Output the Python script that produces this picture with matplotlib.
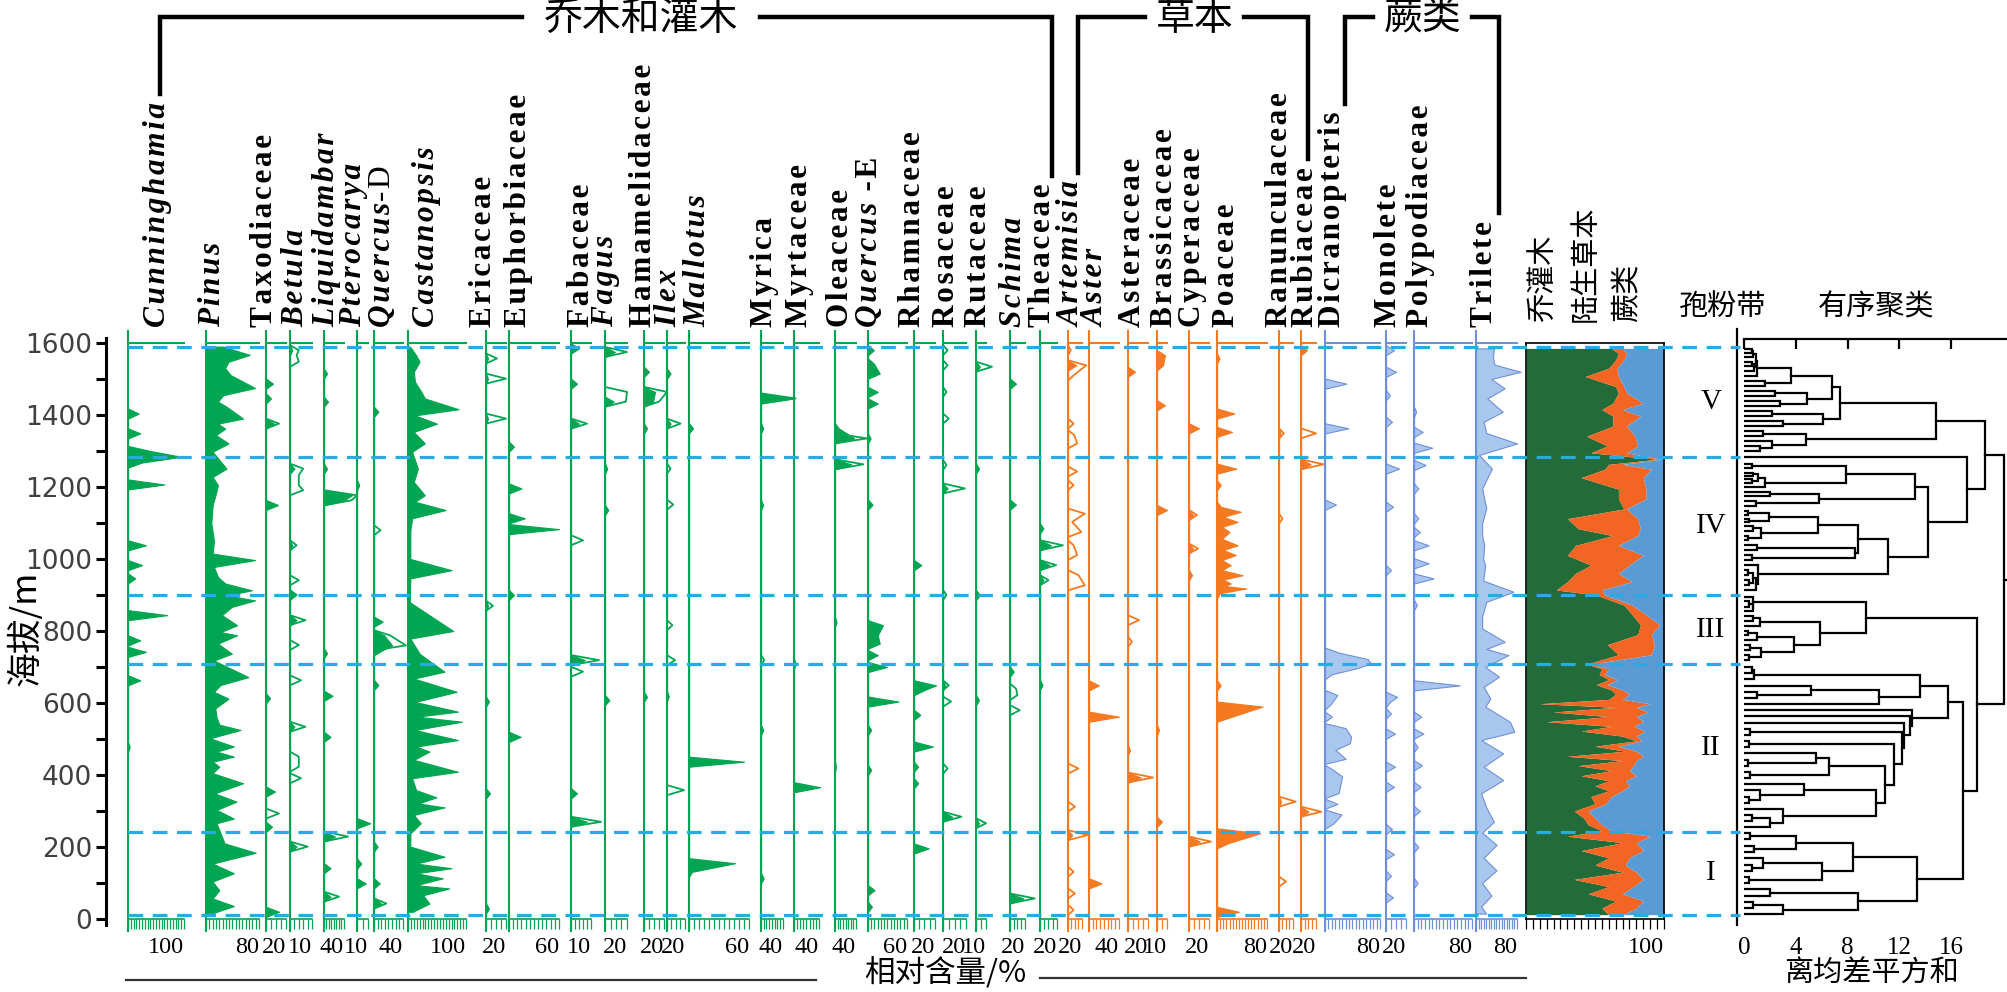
import numpy as np
import matplotlib
matplotlib.use("Agg")
import matplotlib.pyplot as plt
from matplotlib.ticker import MultipleLocator

# ------------------------------------------------------------------
# percentages as (elevation m, percent)
# *_ex = hollow exaggeration outline curves
# ------------------------------------------------------------------
cunninghamia = [(1404, 19), (1349, 22), (1300, 40), (1284, 95), (1268, 25),
                (1207, 65), (1038, 32), (983, 25), (946, 13), (844, 70),
                (774, 22), (742, 32), (663, 22), (478, 3)]
pinus = [(1590, 26), (1567, 66), (1548, 34), (1530, 29), (1511, 37), (1475, 74),
         (1455, 26), (1437, 18), (1423, 31), (1390, 56), (1376, 18), (1362, 29),
         (1344, 15), (1321, 34), (1298, 10), (1251, 31), (1228, 10), (1205, 18),
         (1182, 15), (1150, 10), (1100, 8), (1050, 12), (1015, 10), (997, 74),
         (978, 12), (950, 18), (932, 29), (913, 69), (899, 32), (885, 74),
         (867, 39), (844, 24), (816, 47), (797, 22), (788, 47), (765, 18),
         (737, 39), (718, 12), (672, 64), (650, 22), (631, 12), (612, 34),
         (585, 14), (560, 16), (540, 20), (525, 52), (502, 6), (479, 42),
         (465, 16), (451, 42), (437, 10), (423, 20), (405, 10), (377, 56),
         (349, 13), (326, 46), (303, 16), (279, 42), (266, 16), (247, 20),
         (210, 28), (184, 75), (154, 10), (127, 42), (104, 10), (80, 20),
         (57, 10), (36, 42), (16, 10)]
taxodiaceae = [(1487, 7), (1446, 5), (1376, 8), (1150, 12), (613, 4), (354, 9),
               (256, 6), (20, 13)]
taxodiaceae_ex = [(1376, 13), (293, 13)]
betula = [(1580, 1), (1251, 2), (1038, 1), (900, 2), (830, 3), (534, 2), (201, 3)]
betula_ex = [(1580, 4), (1566, 3), (1548, 4), (1251, 6), (1233, 4), (1205, 4),
             (1191, 6), (1038, 3), (941, 4), (900, 3), (830, 7), (761, 4),
             (663, 5), (534, 7), (451, 4), (423, 4), (391, 5), (201, 8)]
liquidambar = [(1515, 6), (1437, 8), (1251, 6), (1177, 56), (1163, 40), (738, 6),
               (620, 17), (506, 13), (229, 22), (141, 13), (62, 13)]
liquidambar_ex = [(1177, 66), (1163, 55), (229, 48), (62, 30)]
pterocarya = [(1205, 2), (266, 12), (154, 4), (99, 8)]
quercus_d = [(1409, 6), (826, 12), (788, 14), (760, 25), (747, 12), (650, 6),
             (201, 5), (99, 8), (43, 10)]
quercus_d_ex = [(1080, 9), (788, 22), (760, 44), (43, 17)]
castanopsis = [(1589, 4), (1566, 14), (1548, 20), (1520, 10), (1492, 12),
               (1464, 23), (1446, 29), (1416, 87), (1399, 12), (1376, 50),
               (1353, 10), (1321, 29), (1298, 7), (1251, 17), (1214, 10),
               (1177, 29), (1159, 12), (1136, 65), (1113, 7), (1080, 4),
               (1000, 4), (969, 75), (946, 4), (880, 3), (800, 78), (779, 4),
               (737, 20), (719, 35), (687, 63), (668, 10), (631, 84), (603, 12),
               (576, 86), (562, 16), (548, 93), (525, 12), (497, 86), (479, 14),
               (465, 37), (442, 10), (409, 86), (391, 7), (358, 14), (338, 49),
               (321, 18), (310, 63), (289, 10), (266, 22), (238, 4), (201, 4),
               (173, 63), (154, 14), (141, 75), (127, 14), (113, 60), (94, 14),
               (85, 71), (66, 26), (43, 37), (20, 8)]
ericaceae = [(1557, 2), (1501, 2), (1390, 2), (870, 2), (604, 3), (349, 4), (29, 3)]
ericaceae_ex = [(1557, 11), (1501, 20), (1390, 20), (870, 7)]
euphorbiaceae = [(1312, 6), (1196, 15), (1113, 19), (1083, 60), (900, 6), (506, 14)]
fabaceae = [(1585, 4), (1487, 3), (1376, 4), (719, 7), (349, 3), (270, 8)]
fabaceae_ex = [(1376, 8), (1052, 6), (719, 14), (687, 6), (270, 15)]
fagus = [(1575, 9), (1437, 8), (1251, 2), (1136, 3), (608, 4)]
fagus_ex = [(1575, 20), (1464, 20), (1437, 19)]
hamamelidaceae = [(1520, 5), (1464, 11), (1437, 9), (1363, 3), (617, 3)]
hamamelidaceae_ex = [(1464, 23), (1437, 15)]
ilex = [(1515, 4), (1376, 4), (619, 2)]
ilex_ex = [(1376, 15), (1251, 4), (1151, 7), (816, 6), (719, 9), (358, 19)]
mallotus = [(1363, 4), (437, 55), (155, 46), (131, 3)]
myrica = [(1446, 58), (1363, 4), (1150, 4), (525, 4), (113, 5)]
myrica_ex = [(1446, 63), (719, 6)]
myrtaceae = [(709, 3), (366, 42)]
oleaceae = [(1363, 7), (1335, 37), (1263, 31), (825, 3), (423, 2)]
oleaceae_ex = [(1335, 61), (1263, 54)]
quercus_e = [(1580, 9), (1543, 9), (1515, 18), (1464, 15), (1432, 15), (1335, 4),
             (1151, 7), (816, 23), (788, 15), (765, 18), (733, 15), (700, 29),
             (604, 47), (525, 5), (414, 5), (80, 10), (34, 6)]
rhamnaceae = [(983, 7), (649, 21), (636, 10), (567, 6), (479, 18), (423, 4),
              (377, 4), (196, 14)]
rosaceae = [(1196, 4), (649, 2), (284, 8)]
rosaceae_ex = [(1580, 4), (1538, 4), (1464, 3), (1390, 5), (1261, 3), (1196, 19),
               (900, 3), (649, 5), (604, 7), (418, 4), (284, 16)]
rutaceae = [(1534, 4), (1251, 3), (900, 4), (608, 3), (266, 3)]
rutaceae_ex = [(1534, 16), (266, 10)]
schima = [(1487, 8), (1151, 8), (687, 5), (57, 18)]
schima_ex = [(640, 8), (622, 10), (580, 13), (57, 33)]
theaceae = [(1085, 4), (1038, 13), (983, 11), (941, 4), (650, 3)]
theaceae_ex = [(1038, 27), (983, 19), (941, 10)]
artemisia = [(1538, 12), (233, 6)]
artemisia_ex = [(1580, 4), (1538, 26), (1510, 8), (1376, 8), (1344, 9), (1321, 13),
                (1243, 13), (1205, 8), (1126, 24), (1103, 6), (1075, 19),
                (1038, 8), (1011, 13), (955, 15), (927, 24), (418, 15), (312, 10),
                (233, 28), (131, 8), (71, 10), (25, 8)]
aster = [(649, 13), (562, 40), (99, 17)]
asteraceae = [(1520, 7), (469, 2), (393, 13)]
asteraceae_ex = [(830, 11), (770, 4), (393, 25)]
brassicaceae = [(1566, 8), (1538, 6), (1427, 8), (1136, 10), (525, 2), (270, 5)]
cyperaceae = [(1363, 10), (1122, 4), (1029, 4), (955, 3), (215, 11)]
cyperaceae_ex = [(1122, 8), (1029, 9), (215, 22)]
poaceae = [(1557, 4), (1404, 28), (1353, 24), (1251, 31), (1205, 6), (1145, 6),
           (1131, 38), (1117, 10), (1103, 33), (1089, 8), (1075, 20), (1056, 8),
           (1038, 33), (1025, 10), (1011, 30), (997, 8), (983, 22), (969, 8),
           (955, 41), (943, 10), (932, 22), (925, 12), (918, 47), (905, 5),
           (649, 6), (590, 73), (562, 24), (238, 69), (210, 17), (20, 35)]
ranunculaceae = [(1349, 2), (326, 3)]
ranunculaceae_ex = [(1349, 7), (1112, 5), (326, 24), (104, 10)]
rubiaceae = [(1580, 8), (1263, 13), (298, 10)]
rubiaceae_ex = [(1349, 20), (1263, 30), (298, 27)]
dicranopteris = [(1487, 31), (1363, 34), (1151, 16), (740, 20), (722, 62),
                 (710, 67), (696, 45), (680, 10), (622, 18), (596, 8), (562, 10),
                 (530, 30), (506, 38), (488, 36), (470, 15), (445, 30), (414, 12),
                 (396, 25), (370, 22), (350, 20), (320, 18), (290, 24), (265, 12)]
monolete = [(1580, 8), (1520, 10), (1455, 4), (1381, 6), (1251, 13), (1145, 7),
            (969, 5), (617, 11), (603, 4), (571, 5), (515, 9), (423, 9), (367, 8),
            (250, 6), (180, 8), (120, 5), (60, 7)]
polypodiaceae = [(1409, 3), (1353, 12), (1309, 25), (1261, 16), (1196, 6),
                 (1113, 6), (1075, 8), (1038, 20), (988, 20), (946, 27), (872, 4),
                 (649, 63), (562, 10), (515, 13), (478, 5), (427, 11), (367, 9),
                 (300, 8), (200, 6), (100, 5)]
trilete = [(1585, 35), (1560, 33), (1540, 36), (1520, 87), (1500, 30), (1474, 56),
           (1446, 22), (1409, 52), (1381, 15), (1350, 20), (1321, 80), (1289, 6),
           (1251, 31), (1196, 12), (1140, 20), (1100, 12), (1066, 12), (1038, 16),
           (1000, 14), (983, 18), (940, 14), (909, 73), (881, 20), (840, 12),
           (807, 12), (770, 56), (750, 20), (733, 63), (700, 18), (673, 45),
           (645, 15), (612, 28), (590, 18), (548, 66), (520, 75), (497, 10),
           (460, 53), (423, 15), (386, 53), (349, 10), (310, 20), (270, 35),
           (240, 12), (206, 40), (170, 15), (135, 40), (100, 12), (65, 30),
           (35, 10), (15, 20)]

# summary: trees+shrubs %, terrestrial herbs %, ferns fill the rest
summ_elev = [1585, 1571, 1553, 1530, 1507, 1479, 1461, 1433, 1415, 1397, 1369,
             1341, 1314, 1295, 1277, 1263, 1249, 1226, 1194, 1167, 1139, 1112,
             1084, 1065, 1038, 1010, 983, 960, 937, 914, 900, 872, 845, 817, 790,
             762, 734, 708, 695, 679, 665, 651, 636, 624, 610, 598, 588, 575, 562,
             548, 535, 522, 508, 495, 480, 466, 452, 440, 426, 412, 398, 384, 370,
             356, 340, 320, 300, 280, 262, 245, 230, 212, 190, 170, 150, 130, 110,
             90, 70, 50, 30, 12]
summ_tree = [62, 67, 65, 60, 43, 65, 67, 63, 55, 63, 63, 44, 59, 47, 95, 60, 57, 40,
             67, 67, 71, 30, 38, 63, 36, 30, 47, 36, 30, 22, 51, 71, 77, 83, 81, 59,
             67, 44, 55, 53, 60, 51, 62, 65, 60, 10, 65, 20, 60, 15, 62, 40, 70, 80,
             50, 72, 30, 70, 38, 62, 40, 60, 50, 60, 47, 50, 35, 42, 45, 55, 30, 70,
             40, 60, 50, 70, 35, 60, 45, 65, 55, 60]
summ_herb = [8, 6, 6, 6, 24, 6, 6, 22, 15, 20, 10, 35, 22, 26, 3, 10, 34, 45, 20,
             20, 2, 51, 45, 18, 31, 55, 28, 31, 47, 33, 6, 6, 10, 14, 10, 34, 24, 3,
             5, 4, 6, 8, 8, 10, 10, 80, 15, 68, 20, 70, 16, 46, 10, 4, 17, 8, 55, 10,
             40, 13, 40, 12, 25, 10, 15, 8, 10, 8, 10, 7, 60, 10, 45, 15, 22, 10, 50,
             18, 25, 20, 25, 10]

# constrained cluster analysis: sample elevations per zone and the
# dissimilarity at which neighbouring samples join
leaves_v = [1582, 1571, 1560, 1548, 1536, 1523, 1509, 1495, 1481, 1467, 1454, 1438,
            1424, 1410, 1397, 1383, 1369, 1355, 1341, 1328, 1314, 1300]
gaps_v = [0.6, 0.7, 0.9, 0.6, 0.8, 1.0, 3.6, 1.6, 6.8, 2.4, 4.9, 2.8, 7.4, 2.2,
          6.1, 3.0, 14.8, 1.5, 4.8, 2.2, 1.2]
leaves_x = [1284]
gaps_x = []
leaves_iv = [1263, 1254, 1240, 1231, 1222, 1211, 1199, 1185, 1174, 1162, 1148, 1134,
             1121, 1111, 1102, 1093, 1079, 1065, 1052, 1038, 1024, 1010, 996, 983,
             969, 955, 941, 927, 914]
gaps_iv = [0.6, 7.9, 0.7, 1.1, 0.6, 1.6, 13.2, 2.0, 5.8, 0.9, 14.2, 0.3, 1.9, 0.4,
           5.7, 0.7, 1.3, 0.3, 8.8, 1.0, 8.6, 0.6, 11.1, 1.1, 0.3, 0.7, 0.4, 0.9]
leaves_iii = [895, 882, 868, 855, 842, 828, 815, 801, 788, 774, 761, 747, 734, 720]
gaps_iii = [0.7, 0.4, 0.7, 9.4, 0.7, 1.2, 5.9, 0.3, 1.0, 3.9, 0.5, 1.3, 0.4]
leaves_ii = [700, 683, 666, 648, 631, 614, 597, 580, 563, 545, 528, 511, 494, 477,
             460, 443, 426, 409, 391, 374, 357, 340, 323, 306, 289, 272, 255]
gaps_ii = [0.6, 0.8, 13.6, 5.2, 1.0, 10.4, 15.8, 13.0, 12.8, 12.4, 0.5, 12.2, 0.4,
           11.6, 5.6, 0.3, 6.6, 0.5, 10.9, 4.6, 1.2, 0.4, 10.2, 3.0, 0.6, 2.0]
leaves_i = [238, 221, 203, 186, 169, 151, 134, 117, 100, 82, 65, 48, 30, 13]
gaps_i = [0.5, 4.0, 0.8, 8.4, 1.5, 0.6, 6.0, 0.4, 13.4, 2.0, 8.8, 0.7, 3.0]
gaps_between = [18.6, 17.2, 20.1, 18.0, 16.9]

zone_bounds = [1588, 1284, 900, 708, 242, 11]
zone_names = ["V", "IV", "III", "II", "I"]

# ------------------------------------------------------------------
# strips: name, italic, data, outline, kind, group, axis max
panels = [
    ("Cunninghamia", True, cunninghamia, None, "spike", "tree", 100),
    ("Pinus", True, pinus, None, "line", "tree", 80),
    ("Taxodiaceae", False, taxodiaceae, taxodiaceae_ex, "spike", "tree", 20),
    ("Betula", True, betula, betula_ex, "spike", "tree", 10),
    ("Liquidambar", True, liquidambar, liquidambar_ex, "spike", "tree", 40),
    ("Pterocarya", True, pterocarya, None, "spike", "tree", 10),
    ("Quercus", True, quercus_d, quercus_d_ex, "spike", "tree", 40),
    ("Castanopsis", True, castanopsis, None, "line", "tree", 100),
    ("Ericaceae", False, ericaceae, ericaceae_ex, "spike", "tree", 20),
    ("Euphorbiaceae", False, euphorbiaceae, None, "spike", "tree", 60),
    ("Fabaceae", False, fabaceae, fabaceae_ex, "spike", "tree", 10),
    ("Fagus", True, fagus, fagus_ex, "spike", "tree", 20),
    ("Hamamelidaceae", False, hamamelidaceae, hamamelidaceae_ex, "spike", "tree", 20),
    ("Ilex", True, ilex, ilex_ex, "spike", "tree", 20),
    ("Mallotus", True, mallotus, None, "spike", "tree", 60),
    ("Myrica", False, myrica, myrica_ex, "spike", "tree", 40),
    ("Myrtaceae", False, myrtaceae, None, "spike", "tree", 40),
    ("Oleaceae", False, oleaceae, oleaceae_ex, "spike", "tree", 40),
    ("Quercus", True, quercus_e, None, "spike", "tree", 60),
    ("Rhamnaceae", False, rhamnaceae, None, "spike", "tree", 20),
    ("Rosaceae", False, rosaceae, rosaceae_ex, "spike", "tree", 20),
    ("Rutaceae", False, rutaceae, rutaceae_ex, "spike", "tree", 10),
    ("Schima", True, schima, schima_ex, "spike", "tree", 20),
    ("Theaceae", False, theaceae, theaceae_ex, "spike", "tree", 20),
    ("Artemisia", True, artemisia, artemisia_ex, "spike", "herb", 20),
    ("Aster", True, aster, None, "spike", "herb", 40),
    ("Asteraceae", False, asteraceae, asteraceae_ex, "spike", "herb", 20),
    ("Brassicaceae", False, brassicaceae, None, "spike", "herb", 10),
    ("Cyperaceae", False, cyperaceae, cyperaceae_ex, "spike", "herb", 20),
    ("Poaceae", False, poaceae, None, "spike", "herb", 80),
    ("Ranunculaceae", False, ranunculaceae, ranunculaceae_ex, "spike", "herb", 20),
    ("Rubiaceae", False, rubiaceae, rubiaceae_ex, "spike", "herb", 20),
    ("Dicranopteris", False, dicranopteris, None, "spike", "fern", 80),
    ("Monolete", False, monolete, None, "spike", "fern", 20),
    ("Polypodiaceae", False, polypodiaceae, None, "spike", "fern", 80),
    ("Trilete", False, trilete, None, "line", "fern", 80),
]
suffix = {6: ("-D", "normal"), 18: (" -E", "bold")}

# layout in pixels
base_px = [128, 206, 266, 290, 324, 357, 374, 408, 486, 509, 571, 605, 644, 667,
           689, 761, 794, 835, 868, 914, 943, 976, 1010, 1040, 1068, 1089, 1128,
           1157, 1189, 1217, 1279, 1301, 1325, 1386, 1414, 1476]
len_px = [56, 53, 20, 22, 20, 11, 29, 58, 20, 50, 20, 22, 20, 18, 60, 22, 25, 21,
          39, 21, 23, 10, 15, 17, 14, 30, 20, 10, 20, 50, 14, 15, 55, 20, 58, 41]
label_x = [158, 213, 265, 296, 327, 354, 383, 427, 484, 519, 582, 606, 644, 669,
           698, 765, 800, 841, 870, 913, 947, 979, 1014, 1043, 1072, 1096, 1133,
           1165, 1193, 1227, 1280, 1306, 1333, 1389, 1421, 1485]
bracket_under = [0, 23, 24, 31, 32, 35]     # strips under the bracket ends

W, H = 2008, 992
Y0, Y1 = 331, 931
PX_PER_M = 0.36
E_HI = (919 - Y0) / PX_PER_M
E_LO = (919 - Y1) / PX_PER_M
SUM_X, SUM_W = 1526, 138
DEN_X, DEN_PPU = 1744, 12.94

SERIF = ["Liberation Serif", "DejaVu Serif"]
CJK = ["Noto Sans CJK SC", "DejaVu Sans"]
COLORS = {"tree": ("#00a651", "#00a651"),
          "herb": ("#f47920", "#f47920"),
          "fern": ("#a9c7ee", "#6f8fd6")}
DASH = "#29abe2"
LBL_FS = 22.5
HAIR = "\u200a"

fig = plt.figure(figsize=(W / 100, H / 100), dpi=100)


def px_axes(x, y, w, h):
    return fig.add_axes([x / W, 1 - (y + h) / H, w / W, h / H])


def spike_curve(pts, hw=14):
    pts = sorted(pts, key=lambda p: -p[0])
    e, v = [pts[0][0] + hw], [0]
    for i, (el, val) in enumerate(pts):
        if i > 0 and pts[i - 1][0] - el > 2 * hw:
            e += [pts[i - 1][0] - hw, el + hw]
            v += [0, 0]
        e.append(el)
        v.append(val)
    e.append(pts[-1][0] - hw)
    v.append(0)
    return np.array(e), np.array(v)


def nice_step(xmax, length):
    raw = xmax * 3.0 / length
    for s in (1, 2, 5, 10):
        if s >= raw * 0.8:
            return s
    return 10


# elevation axis
yax = px_axes(106, Y0, 1, Y1 - Y0)
yax.set_ylim(E_LO, E_HI)
yax.set_xticks([])
for s in ("top", "right", "bottom"):
    yax.spines[s].set_visible(False)
yax.spines["left"].set_linewidth(2.2)
yax.spines["left"].set_bounds(-17, 1614)
yax.yaxis.set_major_locator(MultipleLocator(200))
yax.yaxis.set_minor_locator(MultipleLocator(100))
yax.tick_params(axis="y", which="major", length=7, width=2.2, labelsize=19,
                labelcolor="#404040", pad=3)
yax.tick_params(axis="y", which="minor", length=7, width=2.2)
yax.set_ylim(E_LO, E_HI)

# pollen strips
for i, (name, ital, data, ex, kind, grp, xmax) in enumerate(panels):
    fc, ec = COLORS[grp]
    ax = px_axes(base_px[i], Y0, len_px[i], Y1 - Y0)
    ax.set_xlim(0, xmax)
    ax.set_ylim(E_LO, E_HI)
    ax.patch.set_visible(False)
    for s in ("top", "right"):
        ax.spines[s].set_visible(False)
    ax.spines["left"].set_color(ec)
    ax.spines["left"].set_linewidth(1.5)
    ax.spines["bottom"].set_position(("data", 0))
    ax.spines["bottom"].set_bounds(0, xmax)
    ax.spines["bottom"].set_color(ec)
    ax.spines["bottom"].set_linewidth(1.2)
    ax.tick_params(axis="y", left=False, labelleft=False)
    ax.set_xticks([xmax])
    ax.set_xticklabels([str(xmax)], fontsize=17.5, family=SERIF)
    for t in ax.get_xticklabels():
        t.set_ha("right")
    ax.xaxis.set_minor_locator(MultipleLocator(nice_step(xmax, len_px[i])))
    ax.tick_params(axis="x", which="both", direction="out", length=7, width=0.9,
                   color=ec, pad=6)
    ax.plot([0, xmax], [1600, 1600], color=ec, lw=1.5, clip_on=False)

    if kind == "line":
        e = np.array([p[0] for p in data])
        v = np.array([p[1] for p in data])
    else:
        e, v = spike_curve(data)
    ax.fill_betweenx(e, 0, v, facecolor=fc, edgecolor=ec, lw=0.8, clip_on=False)
    if ex:
        ee, vv = spike_curve(ex)
        ax.plot(vv, ee, color=ec, lw=1.3, clip_on=False)

# summary strip
sax = px_axes(SUM_X, Y0, SUM_W, Y1 - Y0)
sax.set_xlim(0, 100)
sax.set_ylim(E_LO, E_HI)
tree_v = np.array(summ_tree)
herb_top = tree_v + np.array(summ_herb)
sax.fill_betweenx(summ_elev, 0, tree_v, color="#236b38", lw=0)
sax.fill_betweenx(summ_elev, tree_v, herb_top, color="#f26522", lw=0)
sax.fill_betweenx(summ_elev, herb_top, 100, color="#5b9bd5", lw=0)
sax.spines["top"].set_position(("data", 1600))
sax.spines["bottom"].set_position(("data", 0))
for s in sax.spines.values():
    s.set_linewidth(1.2)
sax.spines["left"].set_bounds(0, 1600)
sax.spines["right"].set_bounds(0, 1600)
sax.tick_params(axis="y", left=False, labelleft=False)
sax.set_xticks([100])
sax.set_xticklabels(["100"], fontsize=17.5, family=SERIF)
for t in sax.get_xticklabels():
    t.set_ha("right")
sax.xaxis.set_minor_locator(MultipleLocator(5))
sax.tick_params(axis="x", which="both", direction="out", length=7, width=0.9, pad=6)

# constrained cluster dendrogram
leaves = leaves_v + leaves_x + leaves_iv + leaves_iii + leaves_ii + leaves_i
gaps = (gaps_v + [gaps_between[0]] + gaps_x + [gaps_between[1]] + gaps_iv +
        [gaps_between[2]] + gaps_iii + [gaps_between[3]] + gaps_ii +
        [gaps_between[4]] + gaps_i)
dx = px_axes(DEN_X, Y0, W - DEN_X, Y1 - Y0)
dx.set_xlim(0, (W - DEN_X) / DEN_PPU)
dx.set_ylim(E_LO, E_HI)
dx.patch.set_visible(False)


def draw_tree(lo, hi):
    if lo == hi:
        return leaves[lo], 0.0
    k = lo + int(np.argmax(gaps[lo:hi]))
    h = gaps[k]
    y1, h1 = draw_tree(lo, k)
    y2, h2 = draw_tree(k + 1, hi)
    dx.plot([h1, h, h, h2], [y1, y1, y2, y2], color="black", lw=1.6,
            solid_joinstyle="miter")
    return (y1 + y2) / 2, h


root_y, root_h = draw_tree(0, len(leaves) - 1)
dx.plot([root_h, dx.get_xlim()[1]], [root_y, root_y], color="black", lw=1.6)
dx.spines["right"].set_visible(False)
dx.spines["bottom"].set_visible(False)
dx.spines["bottom"].set_position(("data", 0))
dx.spines["left"].set_position(("outward", 5))
dx.spines["left"].set_bounds(-17, 1640)
dx.spines["top"].set_position(("data", 1612))
for s in dx.spines.values():
    s.set_linewidth(1.6)
dx.tick_params(axis="y", left=False, labelleft=False)
dx.set_xticks([0, 4, 8, 12, 16])
dx.tick_params(axis="x", which="both", top=True, bottom=False, direction="in",
               length=7, width=1.6, labelsize=18, pad=13)
for t in dx.get_xticklabels():
    t.set_family(SERIF)

# zone boundaries
zax = px_axes(0, Y0, W, Y1 - Y0)
zax.set_xlim(0, W)
zax.set_ylim(E_LO, E_HI)
zax.axis("off")
zax.hlines(zone_bounds, 128, 1740, colors=DASH, linestyles=(0, (4.6, 3.0)), lw=2.3)
for k, nm in enumerate(zone_names):
    zax.text(1711, (zone_bounds[k] + zone_bounds[k + 1]) / 2, nm, ha="center",
             va="center", fontsize=21, family=SERIF)

# texts and brackets in pixel space
ov = fig.add_axes([0, 0, 1, 1])
ov.set_xlim(0, W)
ov.set_ylim(H, 0)
ov.axis("off")
ov.patch.set_visible(False)
rend = fig.canvas.get_renderer()
LB = 327
label_top = []
for i, (name, ital, data, ex, kind, grp, xmax) in enumerate(panels):
    t = ov.text(label_x[i], LB, HAIR.join(name), rotation=90, ha="center",
                va="bottom", fontsize=LBL_FS, fontweight="bold",
                fontstyle="italic" if ital else "normal", family=SERIF)
    top = LB - t.get_window_extent(renderer=rend).height
    if i in suffix:
        txt, wt = suffix[i]
        t2 = ov.text(label_x[i], top - 1, HAIR.join(txt), rotation=90,
                     ha="center", va="bottom", fontsize=LBL_FS, fontweight=wt,
                     family=SERIF)
        top -= t2.get_window_extent(renderer=rend).height + 1
    label_top.append(top)

for x, s in zip([1543, 1586, 1627], ["乔灌木", "陆生草本", "蕨类"]):
    ov.text(x, 322, s, rotation=90, ha="center", va="bottom", fontsize=21,
            family=CJK)
ov.text(1722, 307, "孢粉带", ha="center", va="center", fontsize=21, family=CJK)
ov.text(1876, 307, "有序聚类", ha="center", va="center", fontsize=21, family=CJK)
ov.text(26, 628, "海拔/m", rotation=90, ha="center", va="center", fontsize=25,
        family=CJK)
ov.text(945, 974, "相对含量/%", ha="center", va="center", fontsize=22, family=CJK)
ov.text(1872, 974, "离均差平方和", ha="center", va="center", fontsize=21,
        family=CJK)
ov.plot([126, 816], [980, 980], color="#333333", lw=1.6)
ov.plot([1040, 1526], [978, 978], color="#333333", lw=1.6)

lw_b = 3.2
ends = [label_top[k] - 8 for k in bracket_under]
ov.plot([160, 160, 522], [ends[0], 17, 17], color="black", lw=lw_b, solid_joinstyle="miter")
ov.plot([760, 1052, 1052], [17, 17, ends[1]], color="black", lw=lw_b, solid_joinstyle="miter")
ov.text(641, 19, "乔木和灌木", ha="center", va="center", fontsize=28, family=CJK)
ov.plot([1078, 1078, 1145], [ends[2], 17, 17], color="black", lw=lw_b, solid_joinstyle="miter")
ov.plot([1244, 1308, 1308], [17, 17, ends[3]], color="black", lw=lw_b, solid_joinstyle="miter")
ov.text(1195, 19, "草本", ha="center", va="center", fontsize=28, family=CJK)
ov.plot([1345, 1345, 1373], [ends[4], 17, 17], color="black", lw=lw_b, solid_joinstyle="miter")
ov.plot([1472, 1499, 1499], [17, 17, ends[5]], color="black", lw=lw_b, solid_joinstyle="miter")
ov.text(1423, 19, "蕨类", ha="center", va="center", fontsize=28, family=CJK)

fig.savefig("out.png", dpi=100)
